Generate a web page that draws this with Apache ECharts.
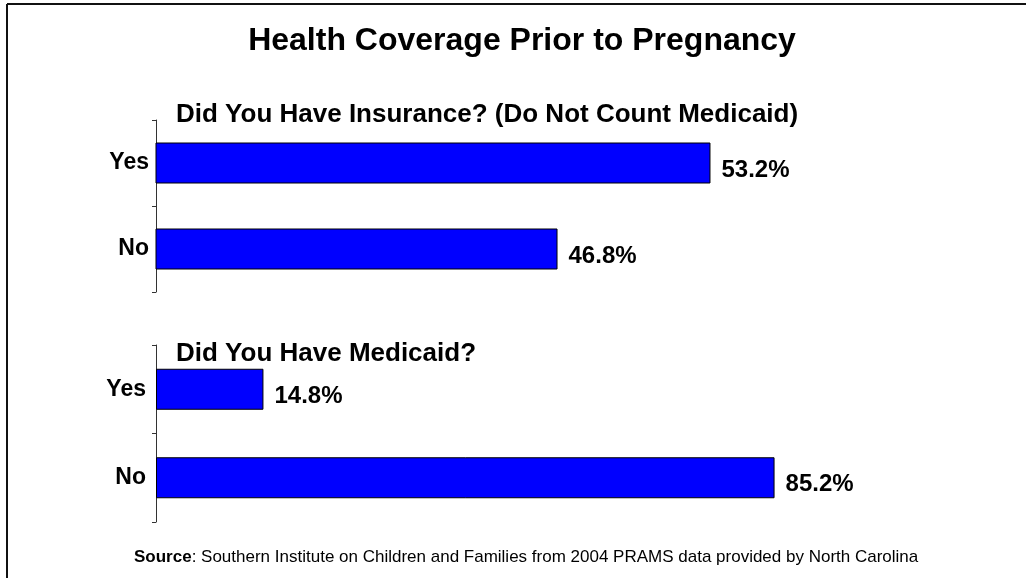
<!DOCTYPE html>
<html>
<head>
<meta charset="utf-8">
<script src="https://cdn.jsdelivr.net/npm/echarts@6/dist/echarts.min.js"></script>
<style>
html,body{margin:0;padding:0;background:#fff;}
#main{width:1026px;height:578px;}
</style>
</head>
<body>
<div id="main"></div>
<script>
const title = 'Health Coverage Prior to Pregnancy';
const subtitle1 = 'Did You Have Insurance? (Do Not Count Medicaid)';
const subtitle2 = 'Did You Have Medicaid?';
const categories = ['Yes', 'No'];
const insuranceValues = [53.2, 46.8];
const medicaidValues = [14.8, 85.2];
const sourceBold = 'Source';
const sourceText = ': Southern Institute on Children and Families from 2004 PRAMS data provided by North Carolina';

const FONT = '"Liberation Sans", Arial, sans-serif';
const chart = echarts.init(document.getElementById('main'), null, {renderer: 'canvas'});

function catAxis(gridIndex, margin) {
  return {
    type: 'category', gridIndex: gridIndex, data: categories, inverse: true,
    axisLine: {show: true, lineStyle: {color: '#333', width: 1}},
    axisTick: {show: true, length: 4, lineStyle: {color: '#333'}},
    axisLabel: {color: '#000', fontFamily: FONT, fontWeight: 'bold', fontSize: 23, margin: margin},
    splitLine: {show: false}
  };
}
function valAxis(gridIndex, min, max) {
  return {
    type: 'value', gridIndex: gridIndex, min: min, max: max,
    axisLine: {show: false}, axisTick: {show: false}, axisLabel: {show: false}, splitLine: {show: false}
  };
}
function barSeries(idx, data) {
  return {
    type: 'bar', xAxisIndex: idx, yAxisIndex: idx, data: data, barWidth: 41,
    itemStyle: {color: '#0000FF', borderColor: '#000', borderWidth: 1},
    label: {
      show: true, position: 'right', distance: 11, offset: [0, 7],
      formatter: p => p.value.toFixed(1) + '%',
      color: '#000', fontFamily: FONT, fontWeight: 'bold', fontSize: 24
    },
    animation: false
  };
}

chart.setOption({
  animation: false,
  backgroundColor: '#fff',
  title: [
    {text: title, left: 517, top: 20, textAlign: 'center',
     textStyle: {fontFamily: FONT, fontWeight: 'bold', fontSize: 32, color: '#000'}},
    {text: subtitle1, left: 171, top: 97,
     textStyle: {fontFamily: FONT, fontWeight: 'bold', fontSize: 26, color: '#000'}},
    {text: subtitle2, left: 171, top: 336,
     textStyle: {fontFamily: FONT, fontWeight: 'bold', fontSize: 26, color: '#000'}},
    {text: '{b|' + sourceBold + '}{n|' + sourceText + '}', left: 129, top: 544,
     textStyle: {rich: {
       b: {fontFamily: FONT, fontWeight: 'bold', fontSize: 17, color: '#000'},
       n: {fontFamily: FONT, fontWeight: 'normal', fontSize: 17, color: '#000'}
     }}}
  ],
  grid: [
    {left: 156, top: 120, width: 717, height: 172},
    {left: 156, top: 345, width: 726, height: 177}
  ],
  xAxis: [valAxis(0, 30, 60), valAxis(1, 0, 100)],
  yAxis: [catAxis(0, 7), catAxis(1, 10)],
  series: [barSeries(0, insuranceValues), barSeries(1, medicaidValues)],
  graphic: [
    {type: 'line', shape: {x1: 7, y1: 4, x2: 1026, y2: 4}, style: {stroke: '#111', lineWidth: 2}},
    {type: 'line', shape: {x1: 7, y1: 4, x2: 7, y2: 578}, style: {stroke: '#111', lineWidth: 2}}
  ]
});
</script>
</body>
</html>
